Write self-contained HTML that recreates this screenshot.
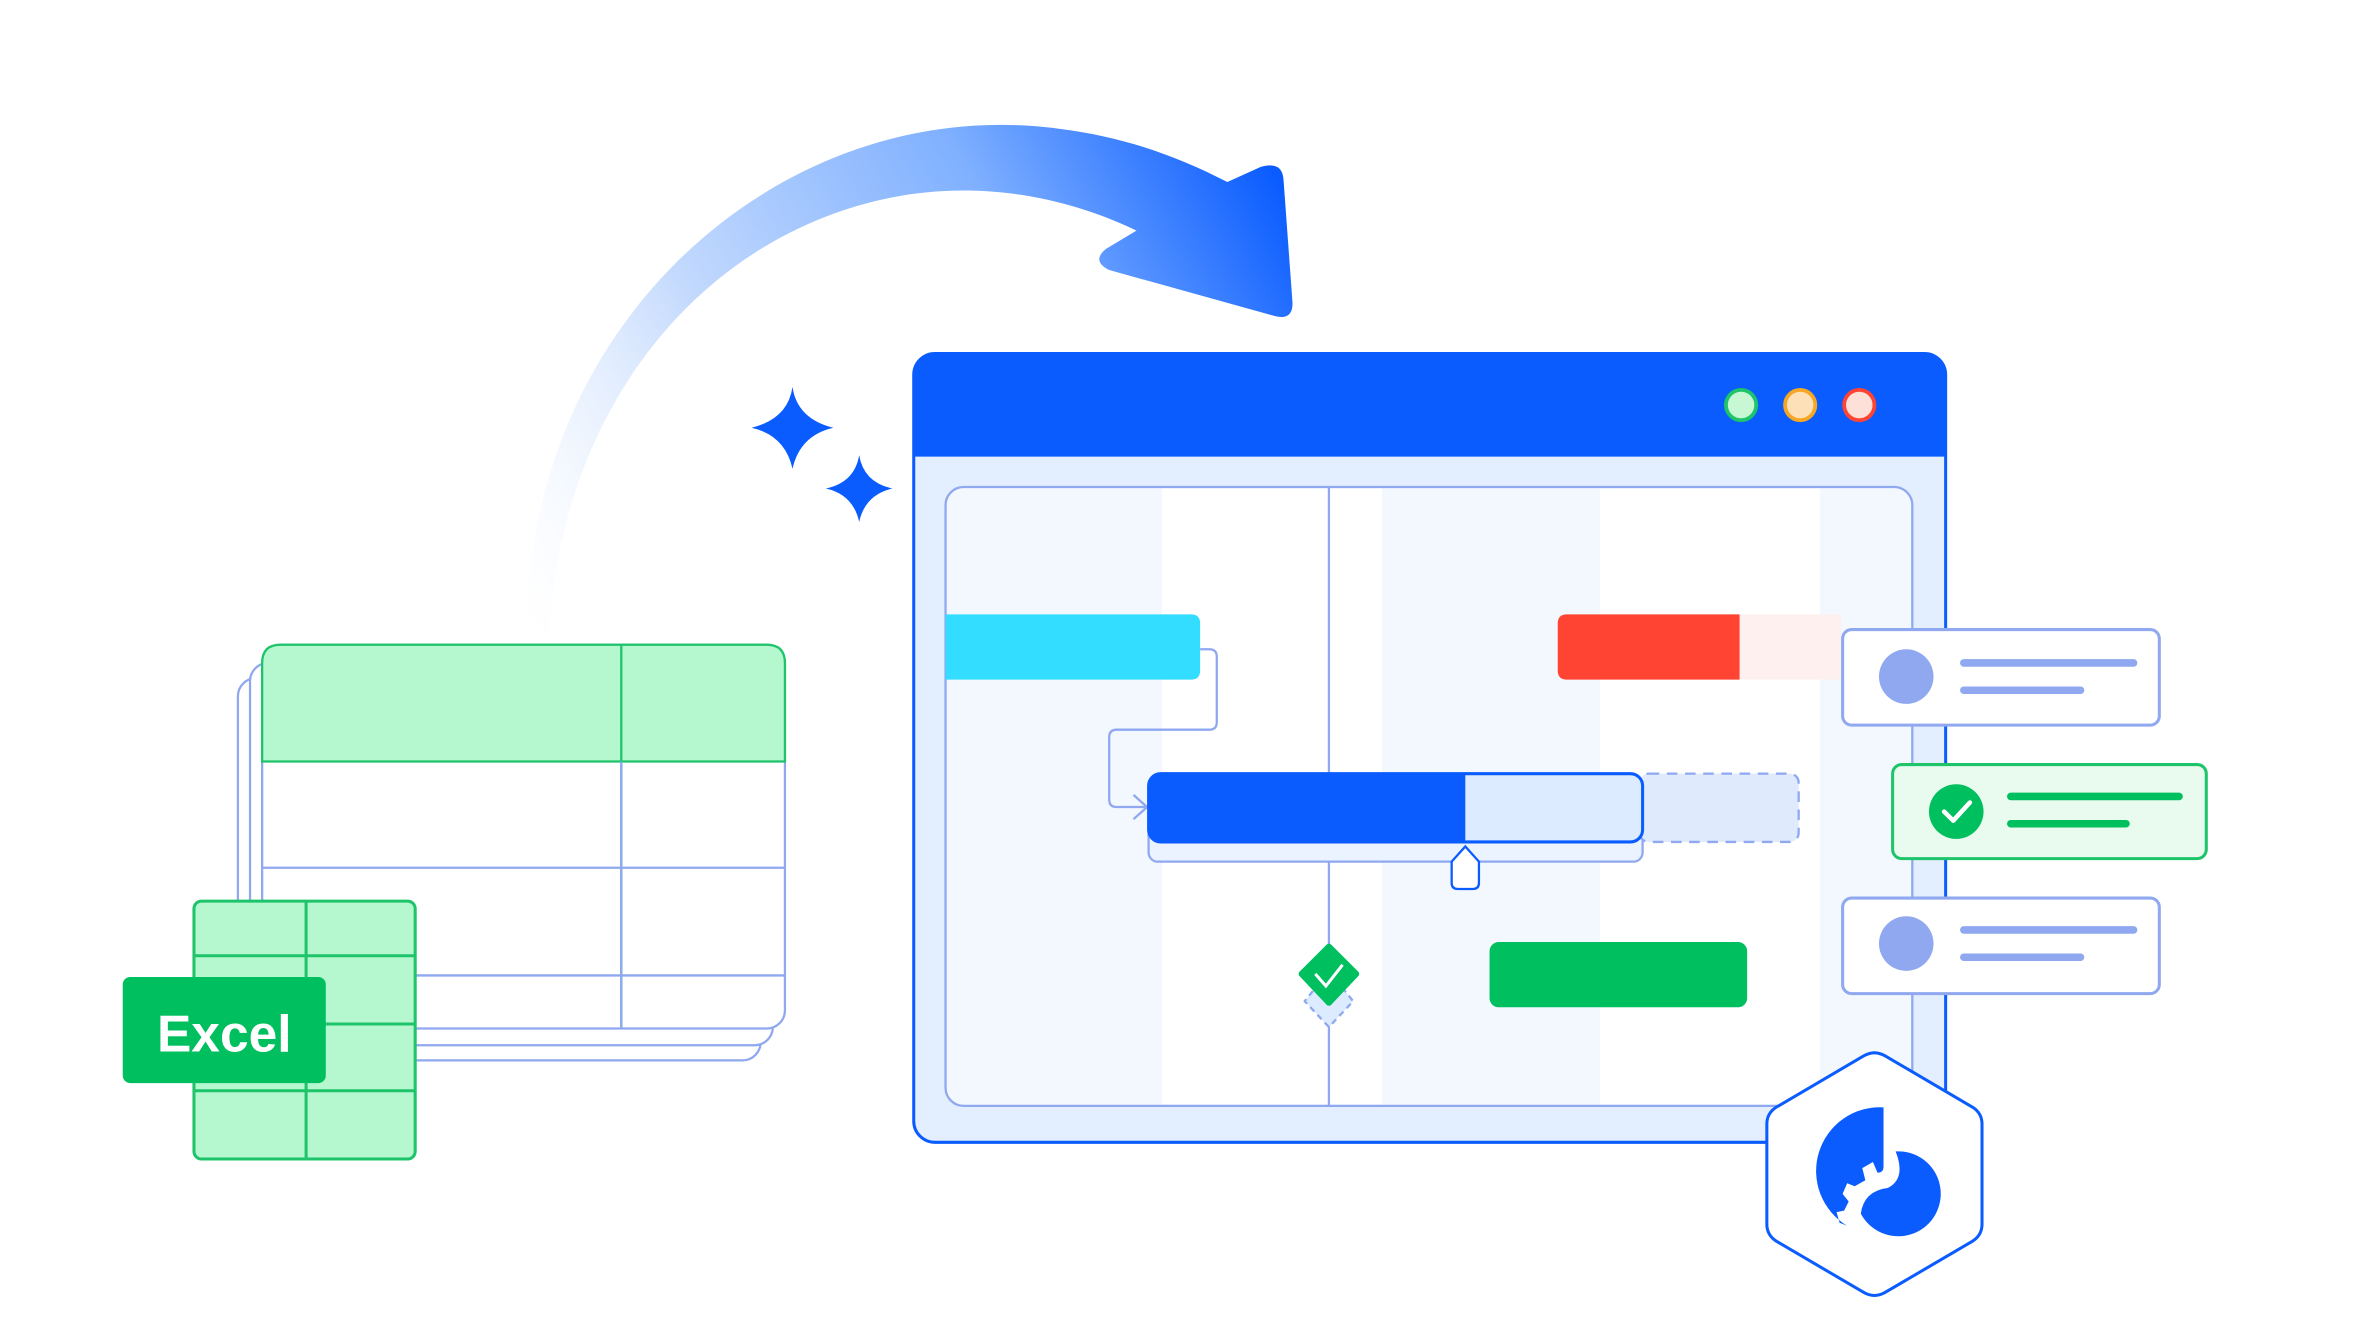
<!DOCTYPE html>
<html><head><meta charset="utf-8"><style>
html,body{margin:0;padding:0;background:#fff;width:2376px;height:1338px;overflow:hidden}
svg{display:block}
</style></head><body>
<svg width="2376" height="1338" viewBox="0 0 1568 882" preserveAspectRatio="none" xmlns="http://www.w3.org/2000/svg">
<defs>
<linearGradient id="ag" x1="350" y1="420" x2="850" y2="130" gradientUnits="userSpaceOnUse">
<stop offset="0" stop-color="#ffffff" stop-opacity="0.2"/>
<stop offset="0.35" stop-color="#c4dafd"/>
<stop offset="0.7" stop-color="#7fb0ff"/>
<stop offset="1" stop-color="#0a5cff"/>
</linearGradient>
</defs>
<rect width="1568" height="882" fill="#fff"/>
<path d="M348,420 C345,210 520,60 700,85 C740,90 775,102 810,120 L832,110 Q846,106 847,118 L853,200 Q853,212 840,208 L732,178 Q720,172 730,164 L750,152 C700,128 640,118 580,132 C460,160 370,270 362,420 Z" fill="url(#ag)"/>
<path d="M523,255 Q526,276 550,282 Q528,287 523,309 Q518,287 496,282 Q520,276 523,255Z" fill="#0a5cff"/>
<path d="M567,300 Q570,318 589,322 Q571,326 567,344 Q563,326 545,322 Q564,318 567,300Z" fill="#0a5cff"/>
<rect x="157" y="447" width="345" height="252" rx="12" fill="#fff" stroke="#8fa8f0" stroke-width="1.5"/>
<rect x="165" y="437" width="345" height="252" rx="12" fill="#fff" stroke="#8fa8f0" stroke-width="1.5"/>
<rect x="173" y="425" width="345" height="253" rx="12" fill="#fff" stroke="#8fa8f0" stroke-width="1.5"/>
<path d="M173,502 V437 Q173,425 185,425 H506 Q518,425 518,437 V502 Z" fill="#b5f7cf" stroke="#1dc46a" stroke-width="1.5"/>
<line x1="410" y1="425" x2="410" y2="678" stroke="#1dc46a" stroke-width="1.5"/>
<line x1="410" y1="502" x2="410" y2="678" stroke="#8fa8f0" stroke-width="1.5"/>
<line x1="173" y1="572" x2="518" y2="572" stroke="#8fa8f0" stroke-width="1.5"/>
<line x1="173" y1="643" x2="518" y2="643" stroke="#8fa8f0" stroke-width="1.5"/>
<rect x="128" y="594" width="146" height="170" rx="5" fill="#b5f7cf" stroke="#1dc46a" stroke-width="2"/>
<line x1="202" y1="594" x2="202" y2="764" stroke="#1dc46a" stroke-width="2"/>
<line x1="128" y1="630" x2="274" y2="630" stroke="#1dc46a" stroke-width="2"/>
<line x1="128" y1="675" x2="274" y2="675" stroke="#1dc46a" stroke-width="2"/>
<line x1="128" y1="719" x2="274" y2="719" stroke="#1dc46a" stroke-width="2"/>
<rect x="81" y="644" width="134" height="70" rx="5" fill="#00bf5f"/>
<text x="148" y="693" text-anchor="middle" font-family="Liberation Sans, sans-serif" font-weight="bold" font-size="34" fill="#fff">Excel</text>
<rect x="603" y="233" width="681" height="520" rx="14" fill="#e3eeff" stroke="#0a5cff" stroke-width="2"/>
<path d="M603,301 V247 Q603,233 617,233 H1270 Q1284,233 1284,247 V301 Z" fill="#0a5cff"/>
<circle cx="1149" cy="267" r="10" fill="#c8f7d4" stroke="#1dc46a" stroke-width="2.5"/>
<circle cx="1188" cy="267" r="10" fill="#fde0b8" stroke="#f5a623" stroke-width="2.5"/>
<circle cx="1227" cy="267" r="10" fill="#fde0d8" stroke="#ff4433" stroke-width="2.5"/>
<rect x="624" y="321" width="638" height="408" rx="12" fill="#f3f8ff" stroke="#8fa8f0" stroke-width="1.5"/>
<rect x="767" y="322" width="145" height="406" fill="#fff"/>
<rect x="1056" y="322" width="145" height="406" fill="#fff"/>
<line x1="877" y1="321" x2="877" y2="729" stroke="#8fa8f0" stroke-width="1.5"/>
<path d="M624,405 H786 Q792,405 792,411 V442 Q792,448 786,448 H624 Z" fill="#33ddff"/>
<path d="M792,428 H798 Q803,428 803,433 V476 Q803,481 798,481 H737 Q732,481 732,486 V527 Q732,532 737,532 H756 M748,524 L757,532 L748,540" fill="none" stroke="#8fa8f0" stroke-width="1.5"/>
<rect x="1140" y="405" width="75" height="43" fill="#fdf0ee"/>
<path d="M1034,405 H1148 V448 H1034 Q1028,448 1028,442 V411 Q1028,405 1034,405Z" fill="#ff4433"/>
<rect x="758" y="522" width="326" height="46" rx="6" fill="#eaf3ff" stroke="#8fa8f0" stroke-width="1.5"/>
<rect x="1082" y="510" width="105" height="45" rx="6" fill="#dfeafd" stroke="#8fa8f0" stroke-width="1.5" stroke-dasharray="7 5"/>
<rect x="758" y="510" width="326" height="45" rx="8" fill="#dcebff" stroke="#0a5cff" stroke-width="2"/>
<path d="M766,510 H967 V555 H766 Q758,555 758,547 V518 Q758,510 766,510Z" fill="#0a5cff"/>
<path d="M958,568 L967,558 L976,568 V582 Q976,586 972,586 H962 Q958,586 958,582 Z" fill="#fff" stroke="#0a5cff" stroke-width="1.5"/>
<path d="M877,640 L893,660 L877,677 L861,660 Z" fill="#dcebff" stroke="#8fa8f0" stroke-width="1.5" stroke-dasharray="4 3" stroke-linejoin="round"/>
<path d="M877,624 L895,642 L877,661 L859,642 Z" fill="#00bf5f" stroke="#00bf5f" stroke-width="4" stroke-linejoin="round"/>
<path d="M868,642 L875,650 L886,636" fill="none" stroke="#fff" stroke-width="2"/>
<rect x="983" y="621" width="170" height="43" rx="6" fill="#00bf5f"/>
<rect x="1216" y="415" width="209" height="63" rx="6" fill="#fff" stroke="#8fa8f0" stroke-width="2"/>
<circle cx="1258" cy="446" r="18" fill="#8fa8f0"/>
<line x1="1296" y1="437" x2="1408" y2="437" stroke="#8fa8f0" stroke-width="5" stroke-linecap="round"/>
<line x1="1296" y1="455" x2="1373" y2="455" stroke="#8fa8f0" stroke-width="5" stroke-linecap="round"/>
<rect x="1249" y="504" width="207" height="62" rx="6" fill="#e8fbee" stroke="#1dc46a" stroke-width="2"/>
<circle cx="1291" cy="535" r="18" fill="#00bf5f"/>
<path d="M1283,535 L1289,541 L1300,529" fill="none" stroke="#fff" stroke-width="3" stroke-linecap="round" stroke-linejoin="round"/>
<line x1="1327" y1="525" x2="1438" y2="525" stroke="#00bf5f" stroke-width="5" stroke-linecap="round"/>
<line x1="1327" y1="543" x2="1403" y2="543" stroke="#00bf5f" stroke-width="5" stroke-linecap="round"/>
<rect x="1216" y="592" width="209" height="63" rx="6" fill="#fff" stroke="#8fa8f0" stroke-width="2"/>
<circle cx="1258" cy="622" r="18" fill="#8fa8f0"/>
<line x1="1296" y1="613" x2="1408" y2="613" stroke="#8fa8f0" stroke-width="5" stroke-linecap="round"/>
<line x1="1296" y1="631" x2="1373" y2="631" stroke="#8fa8f0" stroke-width="5" stroke-linecap="round"/>
<path d="M1230,696 Q1237,692 1244,696 L1302,730 Q1308,734 1308,741 V807 Q1308,814 1302,818 L1244,852 Q1237,856 1230,852 L1172,818 Q1166,814 1166,807 V741 Q1166,734 1172,730 Z" fill="#fff" stroke="#0a5cff" stroke-width="2"/>
<path d="M1243,730 V769 Q1243,773 1239,773 L1236,766 L1229,770 L1231,778 L1224,782 L1219,780 L1216,787 L1220,792 L1217,798 L1212,799 L1214,806 L1219,808 A42,42 0 0 1 1243,730 Z" fill="#0a5cff"/>
<path d="M1251,759 A28,28 0 1 1 1228,800 Q1230,785 1246,783 Q1258,777 1251,759 Z" fill="#0a5cff"/>
</svg>
</body></html>
